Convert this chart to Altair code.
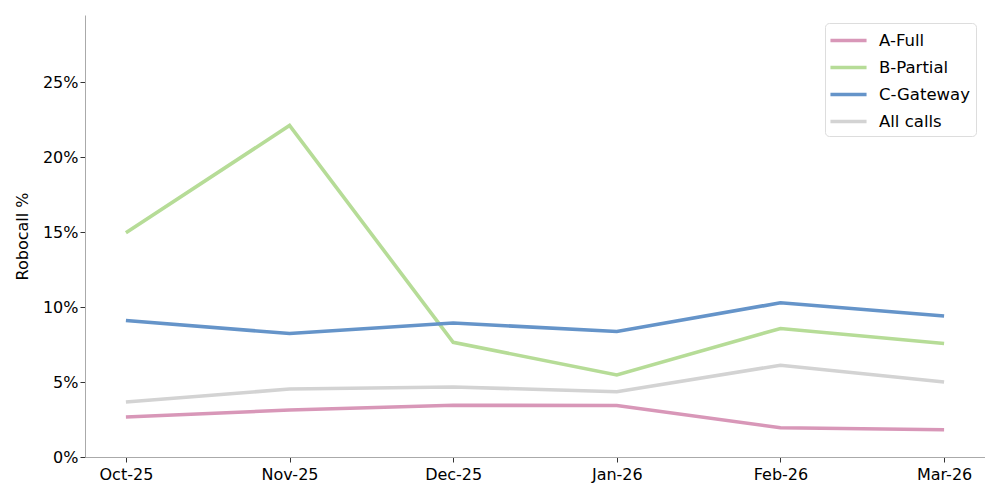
import altair as alt
import pandas as pd

months = ["Oct-25", "Nov-25", "Dec-25", "Jan-26", "Feb-26", "Mar-26"]
series = ["A-Full", "B-Partial", "C-Gateway", "All calls"]
colors = ["#d897b8", "#b6dc97", "#6594c9", "#d3d3d3"]

a_full = [2.67, 3.13, 3.45, 3.43, 1.95, 1.82]
b_partial = [14.95, 22.1, 7.65, 5.47, 8.57, 7.57]
c_gateway = [9.1, 8.23, 8.93, 8.37, 10.28, 9.4]
all_calls = [3.67, 4.53, 4.67, 4.35, 6.12, 5.0]

rows = []
for name, vals in zip(series, [a_full, b_partial, c_gateway, all_calls]):
    for i, (m, v) in enumerate(zip(months, vals)):
        rows.append({"month": m, "idx": i, "series": name, "pct": v / 100})
df = pd.DataFrame(rows)

chart = alt.Chart(df).mark_line(strokeWidth=3.6).encode(
    x=alt.X(
        "month:O",
        sort=months,
        title=None,
        scale=alt.Scale(type="point", padding=0.25),
        axis=alt.Axis(labelAngle=0, domainColor="#aaaaaa", tickColor="#333333",
                      tickSize=5, labelPadding=4),
    ),
    y=alt.Y(
        "pct:Q",
        title="Robocall %",
        scale=alt.Scale(domain=[0, 0.2947], nice=False),
        axis=alt.Axis(format=".0%", values=[0, 0.05, 0.1, 0.15, 0.2, 0.25],
                      grid=False, domainColor="#aaaaaa", tickColor="#333333",
                      tickSize=5, titlePadding=12, titleFontWeight="normal"),
    ),
    color=alt.Color(
        "series:N",
        sort=series,
        scale=alt.Scale(domain=series, range=colors),
        legend=alt.Legend(
            title=None, orient="none", legendX=825 - 85, legendY=23 - 15,
            symbolType="M-1.9,0L1.9,0", symbolSize=361, symbolStrokeWidth=3.6,
            symbolOffset=6, labelFontSize=16.5, rowPadding=7, padding=6,
            labelOffset=19,
            strokeColor="#dddddd", fillColor="white", cornerRadius=4,
        ),
    ),
    order=alt.Order("idx:Q"),
).properties(
    width=900, height=442,
    autosize=alt.AutoSizeParams(type="none"),
    padding={"left": 77, "top": 7, "right": 0, "bottom": 43},
).configure_view(
    strokeWidth=0
).configure_axis(
    labelFont="DejaVu Sans", titleFont="DejaVu Sans",
    labelFontSize=16, titleFontSize=16, labelColor="#000000", titleColor="#000000",
).configure_legend(
    labelFont="DejaVu Sans", labelColor="#000000",
)

chart.save("out.html", embed_options={"renderer": "svg", "actions": False})
